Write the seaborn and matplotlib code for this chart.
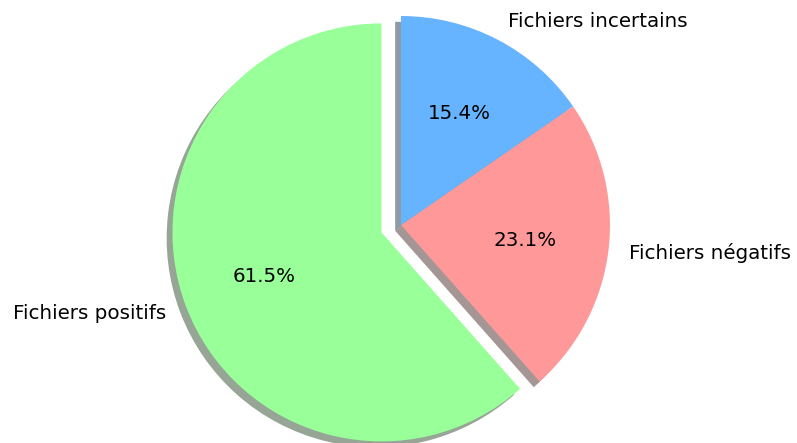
import matplotlib
matplotlib.use("Agg")
import matplotlib.pyplot as plt
import seaborn as sns

sns.set_theme(style="white")
plt.rcParams['font.family'] = ['DejaVu Sans']

labels = ["Fichiers positifs", "Fichiers négatifs", "Fichiers incertains"]
counts = [8, 3, 2]
colors = ["#99ff99", "#ff9999", "#66b3ff"]
explode = [0.1, 0, 0]

fig = plt.figure(figsize=(7.97, 4.43), dpi=100)
ax = fig.add_axes([0, 0, 1, 1])
ax.pie(counts, labels=labels, colors=colors, explode=explode,
       autopct="%1.1f%%", shadow=True, startangle=90,
       wedgeprops={"linewidth": 0, "edgecolor": "none"},
       textprops={"fontsize": 14.3, "color": "black"})

# pie radius ~209 px, centred near (401, 225) from the top-left corner
r = 209.0
cx, cy = 401.0, 225.0
ax.set_xlim(-cx / r, (797 - cx) / r)
ax.set_ylim(-(443 - cy) / r, cy / r)
ax.set_aspect("auto")
ax.axis("off")

fig.savefig("out.png", dpi=100)
